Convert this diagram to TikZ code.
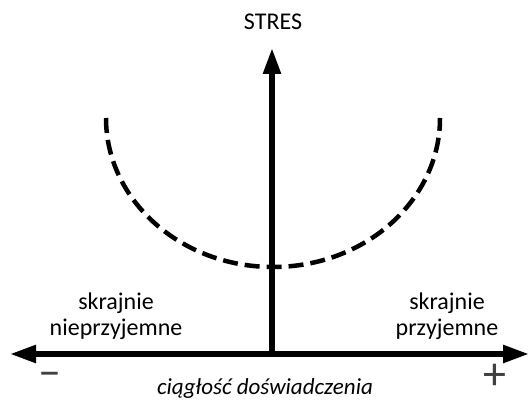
\documentclass[tikz,border=0pt]{standalone}
\usepackage{fontspec}
\setmainfont{Carlito}
\usetikzlibrary{arrows.meta}
\begin{document}
\begin{tikzpicture}[x=1pt, y=1pt,
    axis/.style={line width=5.5pt, -{Triangle[width=17pt,length=26pt]}},
    lbl/.style={font=\fontsize{24}{26}\selectfont, align=center},
    sign/.style={font=\fontsize{46}{46}\selectfont, text=black!75, anchor=base}]
  \useasboundingbox (0,0) rectangle (530,399);
  % axes
  \coordinate (o) at (272,45);
  \coordinate (lft) at (10,45);
  \coordinate (rgt) at (529,45);
  \coordinate (top) at (272,351);
  \draw[axis] (o) -- (lft);
  \draw[axis] (o) -- (rgt);
  \draw[axis] (o) -- (top);
  \node[lbl] (stres) at (273,377) {STRES};
  % curve
  \draw[line width=4.5pt, dash pattern=on 15pt off 7pt] (106,281) arc[start angle=180, end angle=360, x radius=167, y radius=149];
  % labels
  \node[lbl] (neg) at (116,83) {skrajnie\\nieprzyjemne};
  \node[lbl] (pos) at (447,83) {skrajnie\\przyjemne};
  \node[sign] (minus) at (50,13) {–};
  \node[sign] (plus) at (495,10) {+};
  \node[font=\fontsize{23}{23}\selectfont\itshape] (axlbl) at (265,11) {ciągłość doświadczenia};
\end{tikzpicture}
\end{document}
